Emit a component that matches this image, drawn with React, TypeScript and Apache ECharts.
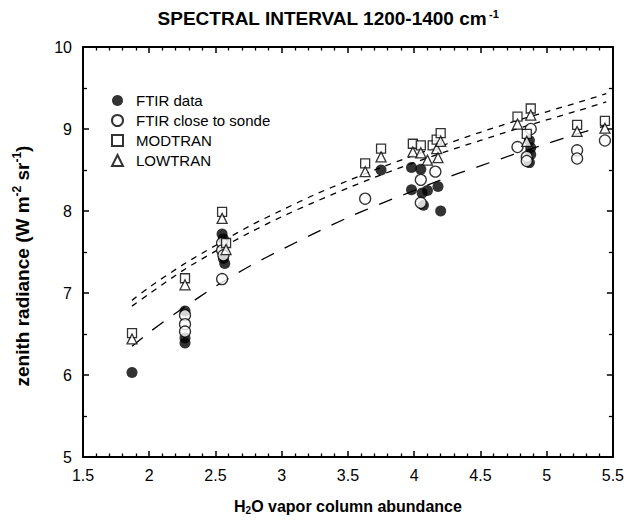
import React, { useEffect, useRef } from "react";
import * as echarts from "echarts";

const FONT = "'Liberation Sans', Arial, Helvetica, sans-serif";

// FTIR data (filled circles)
const ftirData: number[][] = [
  [1.87, 6.03],
  [2.27, 6.78], [2.27, 6.45], [2.27, 6.39],
  [2.55, 7.72], [2.56, 7.66], [2.56, 7.42], [2.57, 7.36],
  [3.75, 8.5],
  [3.98, 8.53], [4.05, 8.51],
  [3.98, 8.26], [4.06, 8.22], [4.1, 8.25], [4.18, 8.3],
  [4.07, 8.07],
  [4.2, 8.0],
  [4.87, 8.86], [4.88, 8.77], [4.88, 8.69], [4.87, 8.59],
];

// FTIR close to sonde (open circles)
const ftirSonde: number[][] = [
  [2.27, 6.73], [2.27, 6.62], [2.27, 6.53],
  [2.55, 7.61], [2.55, 7.52], [2.56, 7.46],
  [2.55, 7.17],
  [3.63, 8.15],
  [4.05, 8.38], [4.05, 8.1],
  [4.16, 8.48],
  [4.78, 8.78],
  [4.88, 9.0],
  [4.85, 8.66], [4.85, 8.61],
  [5.23, 8.74], [5.23, 8.64],
  [5.44, 8.86],
];

// MODTRAN (open squares)
const modtran: number[][] = [
  [1.87, 6.51], [2.27, 7.18], [2.55, 7.99], [2.58, 7.61], [3.63, 8.58],
  [3.75, 8.76], [3.99, 8.82], [4.05, 8.8], [4.14, 8.8], [4.17, 8.87],
  [4.2, 8.95], [4.78, 9.15], [4.88, 9.25], [4.85, 8.94], [5.23, 9.05], [5.44, 9.1],
];

// LOWTRAN (open triangles)
const lowtran: number[][] = [
  [1.87, 6.44], [2.27, 7.1], [2.55, 7.91], [2.58, 7.53], [3.63, 8.48],
  [3.75, 8.66], [3.99, 8.72], [4.05, 8.71], [4.1, 8.62], [4.17, 8.76],
  [4.18, 8.65], [4.2, 8.85], [4.78, 9.06], [4.88, 9.17], [4.85, 8.85],
  [5.23, 8.97], [5.44, 9.01],
];

// fitted curves
const curveX = [1.87, 2.0, 2.25, 2.5, 2.75, 3.0, 3.25, 3.5, 3.75, 4.0, 4.25, 4.5, 4.75, 5.0, 5.25, 5.45];
const modtranFit = [6.91, 7.07, 7.34, 7.58, 7.81, 8.01, 8.2, 8.37, 8.53, 8.68, 8.82, 8.96, 9.09, 9.21, 9.33, 9.43];
const lowtranFit = [6.84, 6.99, 7.27, 7.51, 7.73, 7.93, 8.11, 8.28, 8.44, 8.59, 8.73, 8.86, 8.99, 9.11, 9.23, 9.33];
const ftirFit = [6.35, 6.52, 6.81, 7.08, 7.32, 7.53, 7.73, 7.92, 8.09, 8.25, 8.41, 8.55, 8.69, 8.82, 8.95, 9.04];

const seriesNames = ["FTIR data", "FTIR close to sonde", "MODTRAN", "LOWTRAN"];

const openStyle = { color: "#fff", borderColor: "#000", borderWidth: 1.3 };

const pair = (ys: number[]) => curveX.map((x, i) => [x, ys[i]]);

export default function App() {
  const ref = useRef<HTMLDivElement>(null);
  useEffect(() => {
    document.body.style.margin = "0";
    if (!ref.current) return;
    const chart = echarts.init(ref.current, undefined, { renderer: "svg" });
    const axisLine = { show: true, onZero: false, lineStyle: { color: "#000", width: 2 } };
    const xCommon = {
      type: "value",
      min: 1.5,
      max: 5.5,
      interval: 0.5,
      axisLine,
      axisTick: { show: true, inside: true, length: 6, lineStyle: { color: "#000", width: 1.5 } },
      minorTick: { show: true, splitNumber: 5, length: 3.5, lineStyle: { color: "#000", width: 1.3 } },
      splitLine: { show: false },
      minorSplitLine: { show: false },
    };
    const yCommon = {
      type: "value",
      min: 5,
      max: 10,
      interval: 1,
      axisLine,
      axisTick: { show: true, inside: true, length: 6, lineStyle: { color: "#000", width: 1.5 } },
      minorTick: { show: true, splitNumber: 2, length: 4, lineStyle: { color: "#000", width: 1.3 } },
      splitLine: { show: false },
      minorSplitLine: { show: false },
    };
    const lineSeries = (name: string, ys: number[], dash: number[]) => ({
      name,
      type: "line",
      data: pair(ys),
      symbol: "none",
      smooth: 0.3,
      lineStyle: { color: "#000", width: 1.3, type: dash },
      xAxisIndex: 0,
      yAxisIndex: 0,
      silent: true,
      z: 1,
    });
    chart.setOption({
      animation: false,
      backgroundColor: "#fff",
      textStyle: { fontFamily: FONT },
      grid: { left: 83, right: 14, top: 47, bottom: 64 },
      graphic: [
        {
          type: "text",
          x: 328,
          y: 18,
          style: {
            text: "{a|SPECTRAL INTERVAL 1200-1400 cm}{s|-1}",
            align: "center",
            verticalAlign: "middle",
            rich: {
              a: { fontSize: 19, fontWeight: "bold", fontFamily: FONT, fill: "#000" },
              s: { fontSize: 11, fontWeight: "bold", fontFamily: FONT, fill: "#000", padding: [0, 0, 9, 2] },
            },
          },
        },
        {
          type: "text",
          x: 22,
          y: 266,
          rotation: Math.PI / 2,
          style: {
            text: "{a|zenith radiance (W m}{s|-2}{a| sr}{s|-1}{a|)}",
            align: "center",
            verticalAlign: "middle",
            rich: {
              a: { fontSize: 19, fontWeight: "bold", fontFamily: FONT, fill: "#000" },
              s: { fontSize: 12, fontWeight: "bold", fontFamily: FONT, fill: "#000", padding: [0, 0, 10, 0] },
            },
          },
        },
      ],
      legend: {
        orient: "vertical",
        left: 106,
        top: 88,
        itemWidth: 11,
        itemHeight: 11,
        itemGap: 5,
        data: seriesNames,
        textStyle: { fontSize: 15, color: "#000", fontFamily: FONT, padding: [0, 0, 0, 8] },
      },
      xAxis: [
        {
          ...xCommon,
          position: "bottom",
          axisLabel: { color: "#000", fontSize: 16, fontFamily: FONT, margin: 10 },
          name: "{a|H}{b|2}{a|O vapor column abundance}",
          nameLocation: "middle",
          nameGap: 40,
          nameTextStyle: {
            rich: {
              a: { fontSize: 16, fontWeight: "bold", fontFamily: FONT, color: "#000" },
              b: { fontSize: 10, fontWeight: "bold", fontFamily: FONT, color: "#000", padding: [8, 0, 0, 0] },
            },
          },
        },
        { ...xCommon, position: "top", axisLabel: { show: false } },
      ],
      yAxis: [
        {
          ...yCommon,
          position: "left",
          axisLabel: { color: "#000", fontSize: 16, fontFamily: FONT, margin: 11 },
        },
        { ...yCommon, position: "right", axisLabel: { show: false } },
      ],
      series: [
        lineSeries("MODTRAN fit", modtranFit, [6, 6]),
        lineSeries("LOWTRAN fit", lowtranFit, [6, 6]),
        lineSeries("FTIR fit", ftirFit, [14, 12]),
        {
          name: seriesNames[0],
          type: "scatter",
          data: ftirData,
          symbol: "circle",
          symbolSize: 11,
          itemStyle: { color: "#000" },
          z: 2,
        },
        {
          name: seriesNames[1],
          type: "scatter",
          data: ftirSonde,
          symbol: "circle",
          symbolSize: 11,
          itemStyle: openStyle,
          z: 3,
        },
        {
          name: seriesNames[2],
          type: "scatter",
          data: modtran,
          symbol: "rect",
          symbolSize: 9,
          itemStyle: openStyle,
          z: 4,
        },
        {
          name: seriesNames[3],
          type: "scatter",
          data: lowtran,
          symbol: "triangle",
          symbolSize: 10,
          itemStyle: openStyle,
          z: 5,
        },
      ],
    });
    return () => chart.dispose();
  }, []);
  return <div ref={ref} style={{ width: 627, height: 521 }} />;
}
